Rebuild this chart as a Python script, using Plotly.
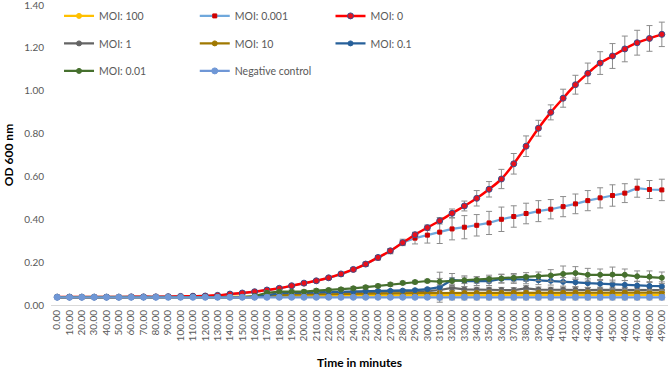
import plotly.graph_objects as go

times = [0, 10, 20, 30, 40, 50, 60, 70, 80, 90, 100, 110, 120, 130, 140, 150, 160, 170, 180, 190,
         200, 210, 220, 230, 240, 250, 260, 270, 280, 290, 300, 310, 320, 330, 340, 350, 360, 370, 380, 390,
         400, 410, 420, 430, 440, 450, 460, 470, 480, 490]
x_labels = [f"{t:.2f}" for t in times]
y_ticks = [0.0, 0.2, 0.4, 0.6, 0.8, 1.0, 1.2, 1.4]

moi_100 = [0.037, 0.037, 0.037, 0.037, 0.037, 0.037, 0.037, 0.037, 0.037, 0.037, 0.037, 0.037, 0.037, 0.037, 0.037, 0.037, 0.037, 0.039, 0.041, 0.042,
           0.043, 0.044, 0.044, 0.044, 0.045, 0.045, 0.045, 0.045, 0.045, 0.045, 0.046, 0.046, 0.046, 0.046, 0.046, 0.046, 0.046, 0.046, 0.046, 0.046,
           0.046, 0.046, 0.047, 0.047, 0.047, 0.047, 0.047, 0.047, 0.047, 0.047]
moi_0001 = [0.037, 0.037, 0.037, 0.037, 0.037, 0.037, 0.038, 0.038, 0.038, 0.039, 0.040, 0.041, 0.042, 0.044, 0.050, 0.055, 0.061, 0.069, 0.077, 0.089,
            0.100, 0.112, 0.126, 0.143, 0.165, 0.190, 0.220, 0.251, 0.292, 0.312, 0.326, 0.340, 0.355, 0.363, 0.372, 0.383, 0.400, 0.413, 0.427, 0.438,
            0.447, 0.459, 0.472, 0.487, 0.500, 0.511, 0.522, 0.545, 0.539, 0.537]
moi_0 = [0.037, 0.037, 0.037, 0.037, 0.037, 0.037, 0.038, 0.038, 0.038, 0.039, 0.040, 0.041, 0.042, 0.045, 0.051, 0.056, 0.062, 0.070, 0.078, 0.090,
         0.102, 0.113, 0.127, 0.145, 0.166, 0.191, 0.222, 0.253, 0.291, 0.328, 0.361, 0.393, 0.428, 0.462, 0.498, 0.540, 0.588, 0.659, 0.741, 0.825,
         0.899, 0.965, 1.028, 1.081, 1.129, 1.162, 1.195, 1.224, 1.244, 1.263]
moi_1 = [0.037, 0.037, 0.037, 0.037, 0.037, 0.037, 0.037, 0.037, 0.037, 0.037, 0.037, 0.037, 0.037, 0.037, 0.037, 0.037, 0.037, 0.045, 0.052, 0.055,
         0.056, 0.057, 0.058, 0.059, 0.060, 0.061, 0.062, 0.062, 0.063, 0.064, 0.065, 0.070, 0.080, 0.073, 0.071, 0.071, 0.070, 0.069, 0.078, 0.072,
         0.071, 0.071, 0.071, 0.070, 0.071, 0.071, 0.070, 0.070, 0.070, 0.070]
moi_10 = [0.037, 0.037, 0.037, 0.037, 0.037, 0.037, 0.037, 0.037, 0.037, 0.037, 0.037, 0.037, 0.037, 0.037, 0.037, 0.037, 0.037, 0.042, 0.046, 0.048,
          0.049, 0.050, 0.051, 0.052, 0.052, 0.053, 0.053, 0.054, 0.054, 0.055, 0.055, 0.056, 0.056, 0.056, 0.056, 0.057, 0.057, 0.057, 0.057, 0.057,
          0.057, 0.057, 0.058, 0.058, 0.058, 0.058, 0.058, 0.058, 0.058, 0.058]
moi_01 = [0.037, 0.037, 0.037, 0.037, 0.037, 0.037, 0.037, 0.037, 0.037, 0.037, 0.037, 0.037, 0.037, 0.037, 0.037, 0.037, 0.037, 0.045, 0.055, 0.057,
          0.058, 0.059, 0.060, 0.062, 0.062, 0.064, 0.065, 0.066, 0.067, 0.069, 0.074, 0.083, 0.117, 0.111, 0.111, 0.111, 0.122, 0.121, 0.119, 0.115,
          0.113, 0.108, 0.106, 0.102, 0.099, 0.096, 0.094, 0.091, 0.089, 0.088]
moi_001 = [0.037, 0.037, 0.037, 0.037, 0.037, 0.037, 0.037, 0.037, 0.037, 0.037, 0.037, 0.037, 0.037, 0.037, 0.037, 0.037, 0.042, 0.057, 0.062, 0.062,
           0.062, 0.067, 0.070, 0.073, 0.078, 0.083, 0.089, 0.096, 0.103, 0.107, 0.112, 0.109, 0.112, 0.115, 0.117, 0.121, 0.124, 0.127, 0.131, 0.134,
           0.138, 0.145, 0.149, 0.141, 0.141, 0.142, 0.141, 0.134, 0.132, 0.127]
neg_ctrl = [0.036, 0.036, 0.036, 0.036, 0.036, 0.036, 0.036, 0.036, 0.036, 0.036, 0.036, 0.036, 0.036, 0.036, 0.036, 0.036, 0.036, 0.036, 0.036, 0.036,
            0.036, 0.036, 0.036, 0.036, 0.036, 0.036, 0.036, 0.036, 0.036, 0.036, 0.036, 0.036, 0.036, 0.036, 0.036, 0.036, 0.036, 0.036, 0.036, 0.036,
            0.036, 0.036, 0.036, 0.036, 0.036, 0.036, 0.036, 0.036, 0.036, 0.036]

err_moi_0 = [0.002] * 13 + [0.004, 0.004, 0.004, 0.004, 0.004, 0.005, 0.005, 0.005, 0.006, 0.006, 0.007, 0.007, 0.008, 0.008, 0.009, 0.010, 0.011,
                            0.012, 0.015, 0.020, 0.023, 0.036, 0.036, 0.045, 0.048, 0.048, 0.037, 0.035, 0.042, 0.044, 0.048, 0.053, 0.058, 0.060,
                            0.058, 0.060, 0.057]
err_moi_0001 = [0.002] * 13 + [0.004, 0.004, 0.004, 0.004, 0.004, 0.005, 0.005, 0.005, 0.006, 0.006, 0.007, 0.008, 0.009, 0.010, 0.012, 0.015, 0.027,
                               0.037, 0.053, 0.051, 0.054, 0.050, 0.054, 0.057, 0.050, 0.048, 0.049, 0.045, 0.047, 0.046, 0.047, 0.047, 0.050, 0.044,
                               0.042, 0.042, 0.050]
err_small = [0.002] * 17 + [0.006] * 14 + [0.012] * 19
err_moi_01 = [0.002] * 17 + [0.006] * 14 + [0.070, 0.030, 0.025, 0.020, 0.020, 0.020, 0.020, 0.020, 0.020, 0.020, 0.020, 0.020, 0.020, 0.020,
                                             0.020, 0.020, 0.020, 0.020, 0.020]
err_moi_001 = [0.002] * 17 + [0.008] * 14 + [0.015, 0.015, 0.015, 0.015, 0.018, 0.020, 0.020, 0.020, 0.020, 0.027, 0.037, 0.030, 0.030, 0.027,
                                              0.035, 0.027, 0.025, 0.027, 0.027]

series = [
    # name, values, errors, line color, marker color, marker outline, symbol, marker size, legend, shape, line width
    ("MOI: 100", moi_100, err_small, "#FFC000", "#FFC000", "#FFC000", "circle", 5, "legend", "linear", 2.2),
    ("MOI: 0.001", moi_0001, err_moi_0001, "#6FA8DC", "#D00000", "#D00000", "square", 4, "legend2", "linear", 2.2),
    ("MOI: 0", moi_0, err_moi_0, "#FF0000", "#E8101C", "#3B4E8C", "circle", 6, "legend3", "spline", 2.5),
    ("MOI: 1", moi_1, err_small, "#646464", "#646464", "#646464", "circle", 5, "legend", "linear", 2.2),
    ("MOI: 10", moi_10, err_small, "#A07800", "#A07800", "#A07800", "circle", 5, "legend2", "linear", 2.2),
    ("MOI: 0.1", moi_01, err_moi_01, "#27609A", "#27609A", "#27609A", "circle", 5, "legend3", "linear", 2.2),
    ("MOI: 0.01", moi_001, err_moi_001, "#46702E", "#46702E", "#46702E", "circle", 5, "legend", "linear", 2.2),
    ("Negative control", neg_ctrl, err_small, "#6F97D6", "#6F97D6", "#6F97D6", "circle", 6, "legend2", "linear", 2.2),
]

fig = go.Figure()
for name, vals, errs, lc, mc, mlc, sym, msize, leg, shape, lw in series:
    fig.add_trace(go.Scatter(
        x=x_labels, y=vals, name=name, mode="lines+markers",
        line=dict(color=lc, width=lw, shape=shape),
        marker=dict(color=mc, size=msize, symbol=sym, line=dict(color=mlc, width=1)),
        error_y=dict(type="data", array=errs, visible=True, color="#8C8C8C", thickness=1, width=3),
        legend=leg, legendgroup=name,
    ))

legend_common = dict(orientation="v", yanchor="top", y=1.012, xanchor="left",
                     bgcolor="rgba(0,0,0,0)", font=dict(size=10.5, color="#595959", family="Lato"),
                     traceorder="grouped", tracegroupgap=8.5)

fig.update_layout(
    width=668, height=373,
    margin=dict(l=51, r=0, t=5, b=68, autoexpand=False),
    paper_bgcolor="white", plot_bgcolor="white",
    font=dict(family="Lato", color="#595959"),
    showlegend=True,
    legend=dict(x=0.013, **legend_common),
    legend2=dict(x=0.233, **legend_common),
    legend3=dict(x=0.453, **legend_common),
    xaxis=dict(
        type="category", range=[-0.5, len(x_labels) - 0.5], autorange=False,
        tickmode="array", tickvals=x_labels, ticktext=x_labels,
        tickangle=-90, showgrid=False, showline=True, linecolor="#D9D9D9", linewidth=1,
        ticks="", tickfont=dict(size=10, color="#595959"), automargin=False,
        title=dict(text="<b>Time in minutes</b>", font=dict(size=12, color="#000000"), standoff=18),
    ),
    yaxis=dict(
        range=[0, 1.4], autorange=False, tickmode="array", tickvals=y_ticks,
        ticktext=[f"{v:.2f}" for v in y_ticks], ticklabeloverflow="allow",
        showgrid=False, zeroline=False, showline=False,
        ticks="", tickfont=dict(size=10, color="#595959"), ticklabelstandoff=6, automargin=False,
        title=dict(text="<b>OD 600 nm</b>", font=dict(size=12, color="#000000"), standoff=8),
    ),
)

fig.write_html("out.html", config={"displayModeBar": False},
               post_script="document.body.style.margin='0';document.body.style.padding='0';")
